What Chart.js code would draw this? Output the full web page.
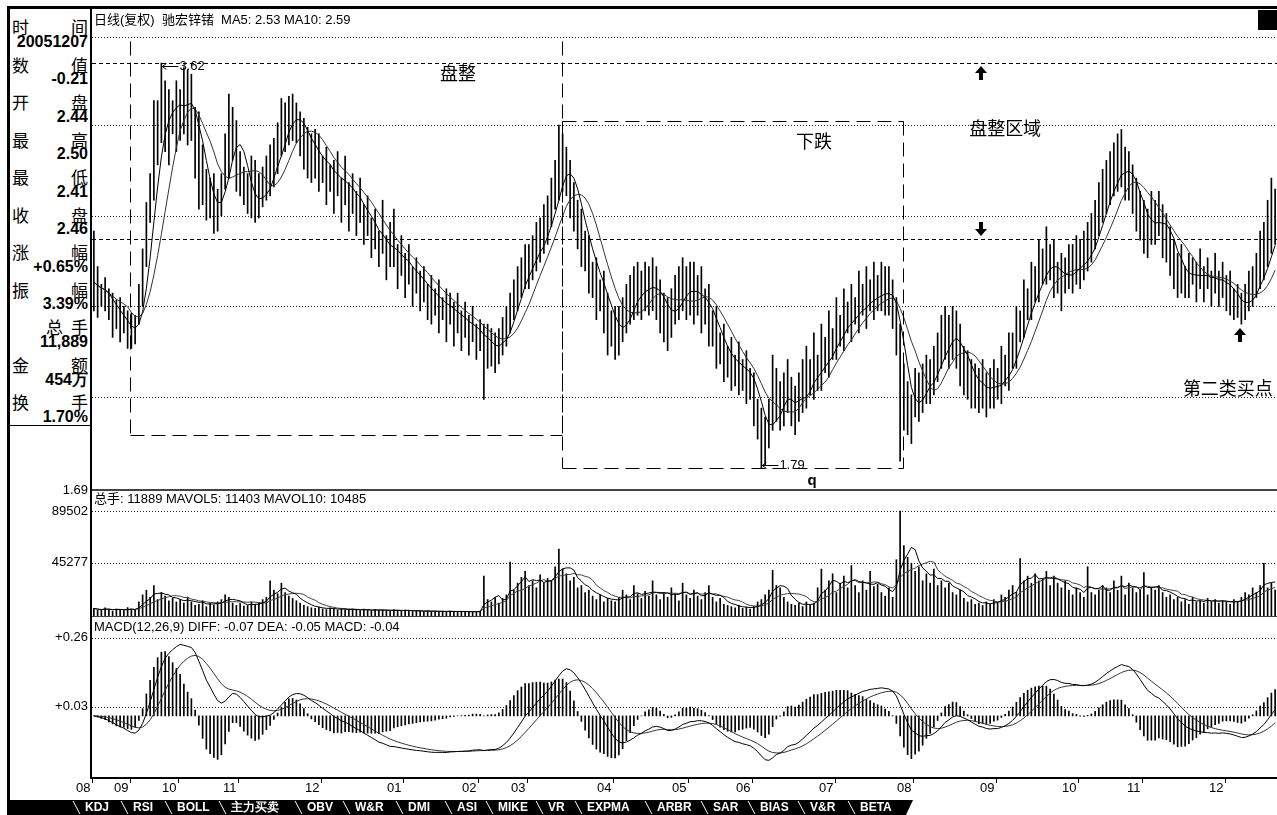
<!DOCTYPE html>
<html lang="zh">
<head>
<meta charset="utf-8">
<title>驰宏锌锗 日线(复权)</title>
<script src="https://cdn.jsdelivr.net/npm/chart.js@4.4.1/dist/chart.umd.min.js"></script>
<style>
  html, body { margin: 0; padding: 0; background: #fff; }
  body { position: relative; width: 1277px; height: 815px; overflow: hidden;
         font-family: 'Liberation Sans', 'Noto Sans CJK SC', sans-serif; color: #000; }
  canvas { position: absolute; }
  .line { position: absolute; background: #000; }
  #info { position: absolute; left: 10px; top: 10px; width: 80px; height: 415px; border-bottom: 1px solid #000; }
  #info span { position: absolute; height: 18px; line-height: 18px; white-space: nowrap; }
  #info .k { font: 17px 'Noto Sans CJK SC', sans-serif; }
  #info .v { right: 2px; font: bold 16px 'Liberation Sans', sans-serif; }
  #tabs { position: absolute; left: 10px; top: 800px; width: 903px; height: 15px; background: #000;
          clip-path: polygon(0 0, 100% 0, calc(100% - 7px) 100%, 0 100%); }
  #tabs span { position: absolute; top: 0; color: #fff; font: bold 12px 'Liberation Sans', sans-serif; line-height: 15px; }
  #tabs i { position: absolute; top: 1px; width: 1px; height: 13px; background: #fff; transform: skewX(28deg); }
</style>
</head>
<body>
<div class="line" style="left:7px;top:6px;width:1270px;height:3px"></div>
<div class="line" style="left:7px;top:6px;width:3px;height:809px"></div>
<div id="info"></div>
<canvas id="priceChart" width="1269" height="492" style="left:8px;top:8px"></canvas>
<canvas id="volChart" width="1269" height="126" style="left:8px;top:490px"></canvas>
<canvas id="macdChart" width="1269" height="184" style="left:8px;top:616px"></canvas>
<div class="line" style="left:90px;top:9px;width:2px;height:770px"></div>
<div id="tabs"></div>
<script>
// 日线数据 (2005-08 ~ 2006-12)
const closes = [
  2.63, 2.60, 2.58, 2.57, 2.52, 2.50, 2.47, 2.46, 2.45, 2.40,
  2.38, 2.42, 2.55, 2.73, 2.93, 3.07, 3.23, 3.34, 3.41, 3.43,
  3.39, 3.41, 3.45, 3.48, 3.40, 3.42, 3.44, 3.30, 3.13, 3.05,
  2.98, 3.02, 2.96, 2.94, 3.05, 3.22, 3.34, 3.36, 3.22, 3.12,
  3.06, 3.02, 2.99, 2.96, 3.00, 3.08, 3.10, 3.12, 3.20, 3.26,
  3.32, 3.36, 3.40, 3.38, 3.36, 3.32, 3.28, 3.24, 3.20, 3.22,
  3.18, 3.15, 3.14, 3.12, 3.08, 3.10, 3.06, 3.08, 3.04, 3.00,
  2.98, 2.97, 2.92, 2.90, 2.87, 2.84, 2.80, 2.82, 2.78, 2.75,
  2.78, 2.74, 2.72, 2.70, 2.68, 2.66, 2.64, 2.63, 2.60, 2.58,
  2.56, 2.55, 2.54, 2.52, 2.50, 2.51, 2.48, 2.47, 2.45, 2.44,
  2.42, 2.43, 2.40, 2.38, 2.33, 2.36, 2.34, 2.32, 2.35, 2.40,
  2.44, 2.50, 2.56, 2.62, 2.66, 2.72, 2.70, 2.76, 2.80, 2.84,
  2.86, 2.92, 3.00, 3.08, 3.14, 3.18, 3.15, 3.05, 2.98, 2.90,
  2.84, 2.78, 2.72, 2.66, 2.62, 2.58, 2.55, 2.46, 2.42, 2.38,
  2.40, 2.46, 2.52, 2.55, 2.58, 2.60, 2.58, 2.62, 2.60, 2.63,
  2.58, 2.52, 2.48, 2.44, 2.50, 2.55, 2.58, 2.62, 2.58, 2.60,
  2.56, 2.58, 2.55, 2.52, 2.48, 2.42, 2.36, 2.34, 2.30, 2.28,
  2.26, 2.24, 2.26, 2.22, 2.21, 2.18, 2.10, 2.02, 1.94, 1.90,
  1.98, 2.08, 2.12, 2.05, 2.10, 2.15, 2.08, 2.04, 2.10, 2.15,
  2.18, 2.20, 2.24, 2.22, 2.27, 2.30, 2.32, 2.36, 2.40, 2.42,
  2.45, 2.48, 2.46, 2.50, 2.52, 2.55, 2.53, 2.57, 2.56, 2.58,
  2.60, 2.57, 2.58, 2.52, 2.40, 2.20, 2.10, 2.05, 2.02, 2.15,
  2.10, 2.16, 2.20, 2.18, 2.24, 2.28, 2.36, 2.40, 2.36, 2.40,
  2.36, 2.28, 2.24, 2.22, 2.18, 2.16, 2.14, 2.17, 2.13, 2.15,
  2.18, 2.16, 2.20, 2.23, 2.26, 2.32, 2.38, 2.44, 2.50, 2.54,
  2.58, 2.62, 2.66, 2.70, 2.74, 2.72, 2.68, 2.65, 2.62, 2.66,
  2.70, 2.68, 2.72, 2.70, 2.74, 2.78, 2.82, 2.88, 2.95, 3.00,
  3.05, 3.08, 3.12, 3.14, 3.18, 3.10, 3.12, 3.05, 2.98, 2.92,
  2.88, 2.86, 2.92, 2.90, 2.94, 2.86, 2.84, 2.78, 2.72, 2.66,
  2.68, 2.64, 2.66, 2.68, 2.65, 2.67, 2.64, 2.66, 2.63, 2.65,
  2.62, 2.64, 2.60, 2.58, 2.55, 2.52, 2.50, 2.54, 2.58, 2.60,
  2.64, 2.70, 2.72, 2.80, 2.86, 2.90
];
const highs = [
  2.86, 2.70, 2.62, 2.65, 2.60, 2.58, 2.55, 2.56, 2.52, 2.50,
  2.49, 2.48, 2.62, 2.78, 2.99, 3.12, 3.45, 3.45, 3.62, 3.54,
  3.50, 3.45, 3.54, 3.50, 3.60, 3.59, 3.57, 3.42, 3.40, 3.25,
  3.14, 3.10, 3.12, 3.05, 3.12, 3.30, 3.48, 3.42, 3.36, 3.22,
  3.15, 3.12, 3.20, 3.18, 3.12, 3.15, 3.20, 3.25, 3.28, 3.35,
  3.46, 3.44, 3.47, 3.48, 3.44, 3.40, 3.37, 3.33, 3.30, 3.32,
  3.30, 3.20, 3.24, 3.16, 3.18, 3.22, 3.10, 3.20, 3.08, 3.12,
  3.04, 3.10, 2.98, 3.02, 2.92, 2.96, 2.86, 3.00, 2.84, 2.90,
  2.96, 2.80, 2.84, 2.76, 2.80, 2.70, 2.74, 2.68, 2.70, 2.62,
  2.66, 2.60, 2.64, 2.56, 2.60, 2.58, 2.54, 2.58, 2.50, 2.54,
  2.48, 2.52, 2.44, 2.46, 2.44, 2.44, 2.42, 2.40, 2.42, 2.47,
  2.52, 2.58, 2.64, 2.70, 2.74, 2.80, 2.80, 2.84, 2.90, 2.92,
  2.98, 3.02, 3.10, 3.18, 3.34, 3.30, 3.24, 3.18, 3.08, 3.00,
  2.96, 2.86, 2.84, 2.72, 2.74, 2.64, 2.68, 2.58, 2.50, 2.52,
  2.52, 2.56, 2.62, 2.66, 2.70, 2.72, 2.68, 2.72, 2.70, 2.74,
  2.70, 2.64, 2.58, 2.56, 2.60, 2.66, 2.70, 2.74, 2.70, 2.72,
  2.72, 2.66, 2.70, 2.60, 2.62, 2.50, 2.52, 2.40, 2.44, 2.34,
  2.38, 2.30, 2.36, 2.28, 2.32, 2.24, 2.22, 2.10, 2.06, 2.02,
  2.10, 2.30, 2.24, 2.18, 2.22, 2.28, 2.20, 2.16, 2.22, 2.28,
  2.34, 2.28, 2.40, 2.30, 2.44, 2.38, 2.50, 2.42, 2.56, 2.48,
  2.60, 2.54, 2.62, 2.56, 2.68, 2.62, 2.70, 2.64, 2.72, 2.66,
  2.72, 2.70, 2.70, 2.64, 2.56, 2.44, 2.26, 2.18, 2.12, 2.24,
  2.22, 2.26, 2.30, 2.28, 2.34, 2.40, 2.48, 2.52, 2.48, 2.52,
  2.50, 2.44, 2.34, 2.32, 2.28, 2.26, 2.24, 2.28, 2.22, 2.24,
  2.28, 2.24, 2.34, 2.30, 2.40, 2.40, 2.52, 2.50, 2.64, 2.60,
  2.72, 2.70, 2.82, 2.78, 2.88, 2.80, 2.82, 2.72, 2.76, 2.74,
  2.80, 2.80, 2.84, 2.82, 2.86, 2.90, 2.94, 3.00, 3.08, 3.14,
  3.18, 3.22, 3.26, 3.30, 3.32, 3.24, 3.22, 3.16, 3.10, 3.04,
  3.00, 2.96, 3.04, 3.00, 3.04, 2.98, 2.94, 2.88, 2.82, 2.76,
  2.80, 2.70, 2.76, 2.74, 2.72, 2.78, 2.70, 2.74, 2.68, 2.76,
  2.68, 2.72, 2.66, 2.68, 2.60, 2.62, 2.58, 2.62, 2.68, 2.70,
  2.76, 2.86, 2.90, 3.00, 3.10, 3.05
];
const lows = [
  2.50, 2.47, 2.52, 2.50, 2.46, 2.38, 2.42, 2.36, 2.40, 2.33,
  2.33, 2.35, 2.44, 2.52, 2.70, 2.90, 3.00, 3.16, 3.26, 3.22,
  3.16, 3.30, 3.22, 3.27, 3.30, 3.25, 3.27, 3.10, 2.96, 2.98,
  2.91, 2.92, 2.85, 2.86, 2.93, 3.05, 3.10, 3.18, 3.04, 3.02,
  2.98, 2.94, 2.92, 2.90, 2.92, 2.97, 3.00, 3.02, 3.06, 3.12,
  3.20, 3.22, 3.25, 3.27, 3.26, 3.20, 3.14, 3.10, 3.08, 3.10,
  3.04, 3.08, 2.98, 3.04, 2.94, 3.02, 2.90, 2.98, 2.86, 2.94,
  2.84, 2.90, 2.80, 2.84, 2.74, 2.78, 2.70, 2.76, 2.64, 2.70,
  2.70, 2.60, 2.66, 2.56, 2.62, 2.52, 2.58, 2.50, 2.54, 2.46,
  2.44, 2.48, 2.40, 2.46, 2.36, 2.44, 2.34, 2.40, 2.32, 2.38,
  2.30, 2.36, 2.28, 2.32, 2.10, 2.24, 2.25, 2.22, 2.26, 2.30,
  2.34, 2.40, 2.46, 2.50, 2.56, 2.60, 2.60, 2.64, 2.68, 2.72,
  2.76, 2.80, 2.88, 2.96, 3.00, 3.04, 3.02, 2.92, 2.86, 2.78,
  2.70, 2.68, 2.58, 2.56, 2.46, 2.50, 2.40, 2.30, 2.34, 2.28,
  2.30, 2.36, 2.40, 2.44, 2.46, 2.48, 2.46, 2.50, 2.48, 2.50,
  2.46, 2.40, 2.36, 2.32, 2.38, 2.44, 2.46, 2.50, 2.46, 2.48,
  2.44, 2.48, 2.40, 2.44, 2.34, 2.34, 2.24, 2.26, 2.18, 2.20,
  2.14, 2.16, 2.12, 2.14, 2.08, 2.10, 1.98, 1.92, 1.79, 1.80,
  1.88, 1.96, 2.00, 1.96, 1.98, 2.04, 1.98, 1.94, 2.00, 2.04,
  2.06, 2.12, 2.10, 2.14, 2.14, 2.22, 2.20, 2.28, 2.28, 2.34,
  2.32, 2.40, 2.36, 2.44, 2.40, 2.48, 2.42, 2.50, 2.46, 2.50,
  2.50, 2.48, 2.48, 2.42, 2.30, 1.82, 1.96, 1.94, 1.90, 2.02,
  2.00, 2.04, 2.08, 2.08, 2.12, 2.18, 2.24, 2.28, 2.24, 2.28,
  2.24, 2.16, 2.12, 2.10, 2.06, 2.06, 2.04, 2.06, 2.02, 2.06,
  2.06, 2.10, 2.08, 2.16, 2.14, 2.24, 2.24, 2.36, 2.38, 2.46,
  2.46, 2.54, 2.54, 2.62, 2.62, 2.64, 2.56, 2.58, 2.50, 2.58,
  2.60, 2.58, 2.62, 2.60, 2.64, 2.68, 2.72, 2.78, 2.84, 2.90,
  2.94, 2.98, 3.02, 3.04, 3.06, 3.00, 3.00, 2.94, 2.86, 2.82,
  2.76, 2.74, 2.80, 2.80, 2.84, 2.74, 2.72, 2.66, 2.60, 2.56,
  2.58, 2.56, 2.56, 2.62, 2.54, 2.60, 2.54, 2.60, 2.52, 2.58,
  2.52, 2.56, 2.50, 2.48, 2.46, 2.47, 2.44, 2.46, 2.50, 2.52,
  2.56, 2.60, 2.64, 2.70, 2.76, 2.80
];
const volumes = [
  6500, 5200, 4800, 7000, 5600, 4200, 6000, 5400, 4600, 7200,
  6000, 5000, 12000, 18000, 22000, 16000, 26000, 14000, 20000, 17000,
  13000, 15000, 12000, 14000, 11000, 16000, 12000, 9000, 10000, 13000,
  8000, 11000, 9500, 12000, 14000, 18000, 16000, 11000, 9000, 10500,
  8500, 9000, 12000, 10000, 11000, 14000, 16000, 30000, 22000, 19000,
  28000, 20000, 17000, 15000, 13000, 11000, 9000, 8000, 7000, 6500,
  7500, 6000, 5500, 7000, 6000, 5000, 6200, 5400, 4800, 6000,
  5200, 4600, 5800, 5000, 4400, 5600, 4800, 5200, 4600, 4000,
  5400, 4800, 4200, 5000, 4400, 3800, 4600, 4000, 3600, 4400,
  3800, 4200, 3500, 4000, 3600, 4300, 3800, 3500, 4000, 3600,
  3400, 3800, 3500, 4200, 34000, 14000, 12000, 16000, 11000, 15000,
  18000, 46000, 22000, 28000, 33000, 38000, 26000, 30000, 24000, 35000,
  28000, 32000, 30000, 42000, 57000, 40000, 36000, 30000, 33000, 24000,
  26000, 20000, 22000, 17000, 14000, 18000, 12000, 15000, 13000, 12000,
  16000, 22000, 18000, 14000, 26000, 19000, 15000, 21000, 17000, 30000,
  18000, 14000, 20000, 16000, 24000, 19000, 13000, 28000, 18000, 15000,
  22000, 17000, 14000, 20000, 26000, 16000, 12000, 15000, 10000, 9000,
  8000, 7000, 9000, 6500, 7500, 6000, 8000, 12000, 14000, 18000,
  22000, 39000, 26000, 24000, 16000, 12000, 10000, 9000, 11000, 8000,
  12000, 9000, 11000, 24000, 40000, 22000, 30000, 36000, 20000, 28000,
  34000, 24000, 43000, 26000, 20000, 30000, 22000, 38000, 25000, 27000,
  20000, 17000, 24000, 16000, 48000, 89502, 60000, 50000, 45000, 38000,
  42000, 30000, 36000, 28000, 40000, 26000, 30000, 24000, 28000, 20000,
  18000, 22000, 15000, 12000, 14000, 10000, 11000, 9000, 12000, 10000,
  14000, 12000, 18000, 16000, 22000, 26000, 20000, 49000, 30000, 34000,
  28000, 36000, 30000, 32000, 38000, 26000, 34000, 28000, 24000, 30000,
  22000, 18000, 24000, 20000, 16000, 42000, 20000, 18000, 22000, 26000,
  24000, 20000, 30000, 22000, 34000, 18000, 28000, 24000, 20000, 22000,
  37000, 18000, 24000, 22000, 26000, 20000, 16000, 18000, 14000, 16000,
  12000, 14000, 10000, 16000, 12000, 13000, 11000, 15000, 12000, 14000,
  11000, 13000, 12000, 10000, 14000, 12000, 16000, 20000, 18000, 24000,
  20000, 26000, 45000, 24000, 28000, 22000
];

// 月份刻度
const monthLabels = ['08', '09', '10', '11', '12', '01', '02', '03', '04', '05', '06', '07', '08', '09', '10', '11', '12'];
const monthStarts = [0, 10, 23, 39, 61, 83, 103, 116, 139, 159, 176, 198, 219, 241, 263, 280, 302];

// 坐标刻度
const priceMin = 1.69, priceMax = 3.86;
const priceGrid = [3.74, 3.34, 2.93, 2.52, 2.11];
const zoneLevels = [3.62, 2.825];
const volTicks = [89502, 45277];
const macdTicks = [0.26, 0.03];

// 标注 (坐标: K线序号 / 价格)
const zoneBoxes = [
  { from: 9.6, to: 124.8, top: 3.72, bottom: 1.94, sides: 'lbr' },
  { from: 124.8, to: 215.8, top: 3.36, bottom: 1.79, sides: 'tlbr' }
];
const notes = [
  { text: '盘整', at: 97.1, price: 3.566, align: 'center' },
  { text: '下跌', at: 192, price: 3.258, align: 'center' },
  { text: '盘整区域', at: 243, price: 3.317, align: 'center' },
  { text: '第二类买点', at: 290.4, price: 2.142, align: 'left' }
];
const arrows = [
  { at: 236.6, price: 3.575, dir: 'up' },
  { at: 236.6, price: 2.870, dir: 'down' },
  { at: 305.6, price: 2.39, dir: 'up' }
];

// 其它面板的文字
const infoRows = [
  ['时', '间'], [null, '20051207'], ['数', '值'], [null, '-0.21'], ['开', '盘'], [null, '2.44'],
  ['最', '高'], [null, '2.50'], ['最', '低'], [null, '2.41'], ['收', '盘'], [null, '2.46'],
  ['涨', '幅'], [null, '+0.65%'], ['振', '幅'], [null, '3.39%'], ['总', '手'], [null, '11,889'],
  ['金', '额'], [null, '454万'], ['换', '手'], [null, '1.70%']
];
const tabLabels = ['KDJ', 'RSI', 'BOLL', '主力买卖', 'OBV', 'W&R', 'DMI', 'ASI', 'MIKE', 'VR', 'EXPMA', 'ARBR', 'SAR', 'BIAS', 'V&R', 'BETA'];
const tabLefts = [85, 133, 177, 231, 307, 355, 408, 457, 498, 548, 587, 657, 713, 760, 810, 860];

// 指标计算
function movingAvg(arr, n) {
  return arr.map((_, i) => {
    const s = arr.slice(Math.max(0, i - n + 1), i + 1);
    return s.reduce((a, b) => a + b, 0) / s.length;
  });
}
function ema(arr, n) {
  const k = 2 / (n + 1);
  const out = [];
  arr.forEach((v, i) => out.push(i === 0 ? v : out[i - 1] + k * (v - out[i - 1])));
  return out;
}
const ma5 = movingAvg(closes, 5);
const ma10 = movingAvg(closes, 10);
const mavol5 = movingAvg(volumes, 5);
const mavol10 = movingAvg(volumes, 10);
const ema12 = ema(closes, 12), ema26 = ema(closes, 26);
const diff = closes.map((_, i) => ema12[i] - ema26[i]);
const dea = ema(diff, 9);
const macd = diff.map((d, i) => 2 * (d - dea[i]));
const labels = closes.map((_, i) => i);

const FONT = "'Liberation Sans', 'Noto Sans CJK SC', sans-serif";
Chart.defaults.font.family = FONT;

function hline(ctx, a, y, dash, color) {
  const yy = Math.round(y) + 0.5;
  ctx.save();
  ctx.strokeStyle = color; ctx.lineWidth = 1; ctx.setLineDash(dash);
  ctx.beginPath(); ctx.moveTo(a.left, yy); ctx.lineTo(a.right, yy); ctx.stroke();
  ctx.restore();
}
function sepLine(ctx, a, y) {
  ctx.save();
  ctx.strokeStyle = '#444'; ctx.lineWidth = 2;
  ctx.beginPath(); ctx.moveTo(a.left, y); ctx.lineTo(a.right, y); ctx.stroke();
  ctx.restore();
}
function leftLabel(ctx, a, y, text) {
  ctx.save();
  ctx.font = '13px ' + FONT; ctx.fillStyle = '#000';
  ctx.textAlign = 'right'; ctx.textBaseline = 'middle';
  ctx.fillText(text, a.left - 4, y);
  ctx.restore();
}
function headText(ctx, a, text, dy) {
  ctx.save();
  ctx.font = '13px ' + FONT; ctx.fillStyle = '#000';
  ctx.textAlign = 'left'; ctx.textBaseline = 'middle';
  ctx.fillText(text, a.left + 2, a.top + dy);
  ctx.restore();
}
function blockArrow(ctx, cx, cy, dir) {
  const s = dir === 'up' ? 1 : -1;
  ctx.beginPath();
  ctx.moveTo(cx, cy - 7 * s);
  ctx.lineTo(cx + 6, cy);
  ctx.lineTo(cx + 2, cy);
  ctx.lineTo(cx + 2, cy + 7 * s);
  ctx.lineTo(cx - 2, cy + 7 * s);
  ctx.lineTo(cx - 2, cy);
  ctx.lineTo(cx - 6, cy);
  ctx.closePath();
  ctx.fill();
}
function extremeLabel(ctx, px, py, text) {
  ctx.save();
  ctx.strokeStyle = '#000'; ctx.fillStyle = '#000'; ctx.lineWidth = 1;
  const yy = Math.round(py) + 0.5;
  ctx.beginPath();
  ctx.moveTo(px + 1, yy); ctx.lineTo(px + 17, yy);
  ctx.moveTo(px + 1, yy); ctx.lineTo(px + 5, yy - 3);
  ctx.moveTo(px + 1, yy); ctx.lineTo(px + 5, yy + 3);
  ctx.stroke();
  ctx.font = '13px ' + FONT; ctx.textBaseline = 'middle'; ctx.textAlign = 'left';
  ctx.fillText(text, px + 18, yy);
  ctx.restore();
}

const pricePlugin = {
  id: 'priceDeco',
  beforeDatasetsDraw(chart) {
    const { ctx, chartArea: a, scales: { y } } = chart;
    priceGrid.forEach(v => hline(ctx, a, y.getPixelForValue(v), [1, 2], '#222'));
    zoneLevels.forEach(v => hline(ctx, a, y.getPixelForValue(v), [4, 3], '#000'));
  },
  afterDatasetsDraw(chart) {
    const { ctx, chartArea: a, scales: { x, y } } = chart;
    ctx.save();
    ctx.strokeStyle = '#000'; ctx.lineWidth = 1; ctx.setLineDash([14, 7]);
    zoneBoxes.forEach(b => {
      const l = Math.round(x.getPixelForValue(b.from)) + 0.5;
      const r = Math.round(x.getPixelForValue(b.to)) + 0.5;
      const t = Math.round(y.getPixelForValue(b.top)) + 0.5;
      const btm = Math.round(y.getPixelForValue(b.bottom)) + 0.5;
      ctx.beginPath();
      if (b.sides.includes('t')) { ctx.moveTo(l, t); ctx.lineTo(r, t); }
      if (b.sides.includes('l')) { ctx.moveTo(l, t); ctx.lineTo(l, btm); }
      if (b.sides.includes('b')) { ctx.moveTo(l, btm); ctx.lineTo(r, btm); }
      if (b.sides.includes('r')) { ctx.moveTo(r, t); ctx.lineTo(r, btm); }
      ctx.stroke();
    });
    ctx.restore();

    ctx.save();
    ctx.fillStyle = '#000';
    ctx.font = '18px ' + FONT; ctx.textBaseline = 'middle';
    notes.forEach(n => {
      ctx.textAlign = n.align;
      ctx.fillText(n.text, x.getPixelForValue(n.at), y.getPixelForValue(n.price));
    });
    arrows.forEach(ar => blockArrow(ctx, Math.round(x.getPixelForValue(ar.at)), Math.round(y.getPixelForValue(ar.price)), ar.dir));
    ctx.font = 'bold 15px ' + FONT; ctx.textAlign = 'center';
    ctx.fillText('q', x.getPixelForValue(191.5), y.getPixelForValue(1.731));
    ctx.restore();

    const hi = Math.max(...highs), lo = Math.min(...lows);
    extremeLabel(ctx, x.getPixelForValue(highs.indexOf(hi)), y.getPixelForValue(hi) + 3, hi.toFixed(2));
    extremeLabel(ctx, x.getPixelForValue(lows.indexOf(lo)), y.getPixelForValue(lo) - 3, lo.toFixed(2));

    headText(ctx, a, '日线(复权)  驰宏锌锗  MA5: 2.53 MA10: 2.59', 10);
    ctx.fillStyle = '#000';
    ctx.fillRect(a.right - 19, a.top, 19, 20);
    sepLine(ctx, a, a.bottom);
    leftLabel(ctx, a, y.getPixelForValue(priceMin), priceMin.toFixed(2));
  }
};

const volPlugin = {
  id: 'volDeco',
  beforeDatasetsDraw(chart) {
    const { ctx, chartArea: a, scales: { y } } = chart;
    volTicks.forEach(v => hline(ctx, a, y.getPixelForValue(v), [1, 2], '#222'));
  },
  afterDatasetsDraw(chart) {
    const { ctx, chartArea: a, scales: { y } } = chart;
    headText(ctx, a, '总手: 11889 MAVOL5: 11403 MAVOL10: 10485', 9);
    volTicks.forEach(v => leftLabel(ctx, a, y.getPixelForValue(v), String(v)));
  }
};

const macdPlugin = {
  id: 'macdDeco',
  beforeDatasetsDraw(chart) {
    const { ctx, chartArea: a, scales: { y } } = chart;
    macdTicks.forEach(v => hline(ctx, a, y.getPixelForValue(v), [1, 2], '#222'));
  },
  afterDatasetsDraw(chart) {
    const { ctx, chartArea: a, scales: { x, y } } = chart;
    sepLine(ctx, a, a.top);
    headText(ctx, a, 'MACD(12,26,9) DIFF: -0.07 DEA: -0.05 MACD: -0.04', 11);
    macdTicks.forEach(v => leftLabel(ctx, a, y.getPixelForValue(v), (v >= 0 ? '+' : '') + v.toFixed(2)));
    ctx.save();
    ctx.strokeStyle = '#000'; ctx.lineWidth = 2;
    ctx.beginPath(); ctx.moveTo(a.left - 1, a.bottom); ctx.lineTo(a.right, a.bottom); ctx.stroke();
    const slot = (a.right - a.left) / closes.length;
    ctx.lineWidth = 1; ctx.font = '13px ' + FONT; ctx.fillStyle = '#000';
    ctx.textAlign = 'right'; ctx.textBaseline = 'middle';
    monthStarts.forEach((idx, k) => {
      const px = Math.round(x.getPixelForValue(idx) - slot / 2) + 0.5;
      ctx.beginPath(); ctx.moveTo(px, a.bottom); ctx.lineTo(px, a.bottom + 5); ctx.stroke();
      ctx.fillText(monthLabels[k], px - 2, a.bottom + 10);
    });
    ctx.restore();
  }
};

function baseOptions(yMin, yMax, padding) {
  return {
    responsive: false,
    animation: false,
    events: [],
    layout: { padding },
    plugins: { legend: { display: false }, tooltip: { enabled: false } },
    scales: {
      x: { type: 'category', display: false, offset: true },
      y: { display: false, min: yMin, max: yMax }
    }
  };
}
const barStyle = { backgroundColor: '#000', barThickness: 1, borderWidth: 0 };
const lineStyle = (color) => ({ type: 'line', borderColor: color, borderWidth: 1, pointRadius: 0, tension: 0, fill: false });

new Chart(document.getElementById('priceChart'), {
  type: 'bar',
  data: {
    labels,
    datasets: [
      { ...lineStyle('#000'), label: 'MA5', data: ma5, order: 0 },
      { ...lineStyle('#333'), label: 'MA10', data: ma10, order: 1 },
      { ...barStyle, label: 'K线', data: lows.map((l, i) => [l, highs[i]]), order: 2 }
    ]
  },
  options: baseOptions(priceMin, priceMax, { left: 84, right: 0, top: 2, bottom: 10 }),
  plugins: [pricePlugin]
});

new Chart(document.getElementById('volChart'), {
  type: 'bar',
  data: {
    labels,
    datasets: [
      { ...lineStyle('#000'), label: 'MAVOL5', data: mavol5, order: 0 },
      { ...lineStyle('#444'), label: 'MAVOL10', data: mavol10, order: 1 },
      { ...barStyle, label: '总手', data: volumes, order: 2 }
    ]
  },
  options: baseOptions(0, 107402, { left: 84, right: 0, top: 0, bottom: 0 }),
  plugins: [volPlugin]
});

new Chart(document.getElementById('macdChart'), {
  type: 'bar',
  data: {
    labels,
    datasets: [
      { ...lineStyle('#000'), label: 'DIFF', data: diff, order: 0 },
      { ...lineStyle('#333'), label: 'DEA', data: dea, order: 1 },
      { ...barStyle, label: 'MACD', data: macd, order: 2 }
    ]
  },
  options: baseOptions(-0.207, 0.333, { left: 84, right: 0, top: 0, bottom: 22 }),
  plugins: [macdPlugin]
});

// 左侧信息栏
const info = document.getElementById('info');
infoRows.forEach(([k, v], n) => {
  const top = 4 + n * 18.76;
  if (k) {
    const a = document.createElement('span');
    a.className = 'k'; a.textContent = k; a.style.left = (k === '总' ? 36 : 2) + 'px'; a.style.top = top + 'px';
    info.appendChild(a);
    const b = document.createElement('span');
    b.className = 'k'; b.textContent = v; b.style.right = '2px'; b.style.top = top + 'px';
    info.appendChild(b);
  } else {
    const b = document.createElement('span');
    b.className = 'v'; b.textContent = v; b.style.top = top + 'px';
    info.appendChild(b);
  }
});

// 底部指标标签
const tabs = document.getElementById('tabs');
tabLabels.forEach((t, k) => {
  const sep = document.createElement('i');
  sep.style.left = (tabLefts[k] - 10 - 9) + 'px';
  tabs.appendChild(sep);
  const s = document.createElement('span');
  s.textContent = t; s.style.left = (tabLefts[k] - 10) + 'px';
  tabs.appendChild(s);
});
</script>
</body>
</html>
